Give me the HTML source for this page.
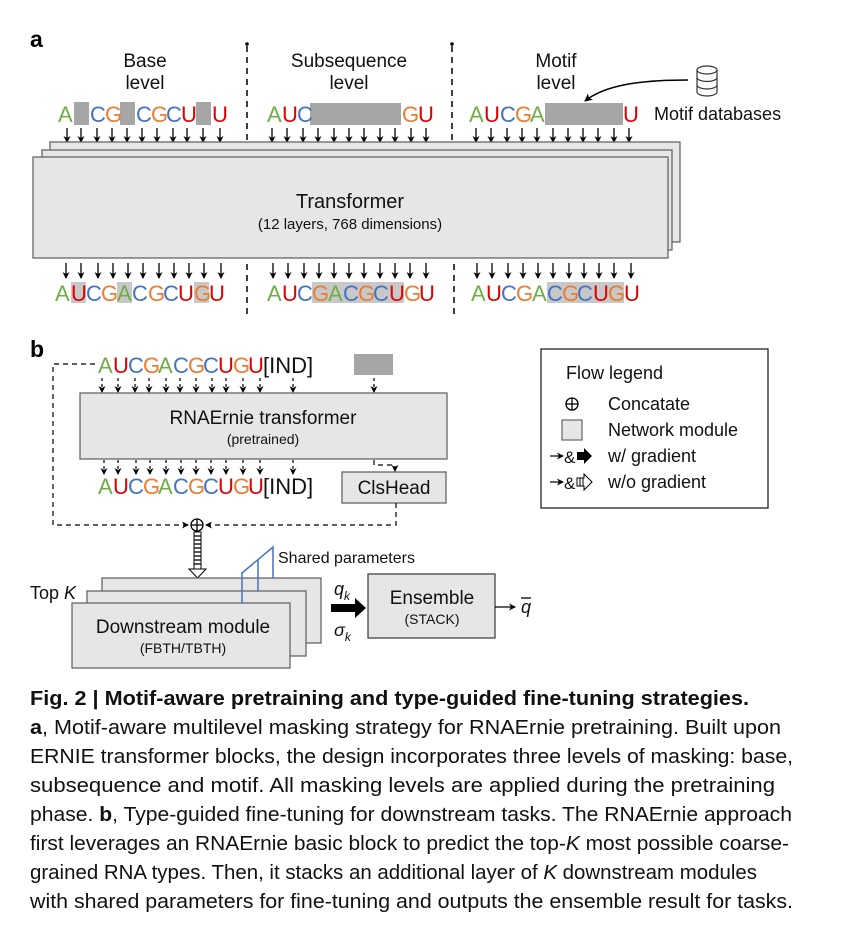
<!DOCTYPE html>
<html><head><meta charset="utf-8"><style>
html,body{margin:0;padding:0;background:#fff;}
svg{display:block;font-family:"Liberation Sans",sans-serif;}
</style></head><body>
<svg width="868" height="934" viewBox="0 0 868 934" xmlns="http://www.w3.org/2000/svg">
<defs>
<marker id="ah" markerWidth="8" markerHeight="8" refX="7" refY="4" orient="auto" markerUnits="userSpaceOnUse"><path d="M0,0 L8,4 L0,8 L2,4 z" fill="#000"/></marker>
<marker id="ahs" markerWidth="7" markerHeight="7" refX="6" refY="3.5" orient="auto" markerUnits="userSpaceOnUse"><path d="M0,0 L7,3.5 L0,7 L2,3.5 z" fill="#000"/></marker>
</defs>

<!-- Panel a -->
<text x="30" y="47" font-size="23" font-weight="bold">a</text>
<g stroke="#000" stroke-width="1.5" stroke-dasharray="6,5">
<line x1="247" y1="46" x2="247" y2="140"/><line x1="452" y1="46" x2="452" y2="140"/>
<line x1="247" y1="264" x2="247" y2="318"/><line x1="454" y1="264" x2="454" y2="318"/>
</g>
<circle cx="247" cy="44" r="1.8"/><circle cx="452" cy="44" r="1.8"/>

<g font-size="19" text-anchor="middle" fill="#111">
<text x="145" y="67">Base</text><text x="145" y="89">level</text>
<text x="349" y="67">Subsequence</text><text x="349" y="89">level</text>
<text x="556" y="67">Motif</text><text x="556" y="89">level</text>
</g>

<!-- top seqs -->
<g fill="#a6a6a6">
<rect x="74" y="102" width="15" height="23"/><rect x="120" y="102" width="15" height="23"/><rect x="196" y="102" width="15" height="23"/>
<rect x="310" y="103" width="91" height="22"/>
<rect x="545" y="103" width="78" height="22"/>
</g>
<g font-size="22">
<text y="122"><tspan x="58" fill="#70AD47">A</tspan><tspan x="90" fill="#4472C4">C</tspan><tspan x="105" fill="#ED7D31">G</tspan><tspan x="136" fill="#4472C4">C</tspan><tspan x="151" fill="#ED7D31">G</tspan><tspan x="166" fill="#4472C4">C</tspan><tspan x="181" fill="#E00000">U</tspan><tspan x="212" fill="#E00000">U</tspan></text>
<text y="122"><tspan x="267" fill="#70AD47">A</tspan><tspan x="282" fill="#E00000">U</tspan><tspan x="297" fill="#4472C4">C</tspan><tspan x="402" fill="#ED7D31">G</tspan><tspan x="418" fill="#E00000">U</tspan></text>
<text y="122"><tspan x="469" fill="#70AD47">A</tspan><tspan x="484" fill="#E00000">U</tspan><tspan x="500" fill="#4472C4">C</tspan><tspan x="515" fill="#ED7D31">G</tspan><tspan x="530" fill="#70AD47">A</tspan><tspan x="623" fill="#E00000">U</tspan></text>
</g>

<!-- DB icon + curved arrow -->
<g fill="none" stroke="#333" stroke-width="1.2">
<ellipse cx="707" cy="70" rx="10" ry="4"/>
<path d="M697,70 V92 A10,4 0 0 0 717,92 V70"/>
<path d="M697,77.5 A10,4 0 0 0 717,77.5"/><path d="M697,85 A10,4 0 0 0 717,85"/>
</g>
<path d="M688,80 C640,80 605,85 585,101" fill="none" stroke="#000" stroke-width="1.5" marker-end="url(#ah)"/>
<text x="654" y="120" font-size="18" fill="#111">Motif databases</text>

<!-- top arrows -->
<g stroke="#000" stroke-width="1.3" marker-end="url(#ahs)">
<line x1="67" y1="128" x2="67" y2="142"/><line x1="81" y1="128" x2="81" y2="142"/><line x1="97" y1="128" x2="97" y2="142"/><line x1="112" y1="128" x2="112" y2="142"/><line x1="127" y1="128" x2="127" y2="142"/><line x1="142" y1="128" x2="142" y2="142"/><line x1="157" y1="128" x2="157" y2="142"/><line x1="173" y1="128" x2="173" y2="142"/><line x1="187" y1="128" x2="187" y2="142"/><line x1="203" y1="128" x2="203" y2="142"/><line x1="220" y1="128" x2="220" y2="142"/>
<line x1="272" y1="128" x2="272" y2="142"/><line x1="287" y1="128" x2="287" y2="142"/><line x1="303" y1="128" x2="303" y2="142"/><line x1="318" y1="128" x2="318" y2="142"/><line x1="334" y1="128" x2="334" y2="142"/><line x1="349" y1="128" x2="349" y2="142"/><line x1="364" y1="128" x2="364" y2="142"/><line x1="380" y1="128" x2="380" y2="142"/><line x1="395" y1="128" x2="395" y2="142"/><line x1="411" y1="128" x2="411" y2="142"/><line x1="426" y1="128" x2="426" y2="142"/>
<line x1="476" y1="128" x2="476" y2="142"/><line x1="491" y1="128" x2="491" y2="142"/><line x1="507" y1="128" x2="507" y2="142"/><line x1="522" y1="128" x2="522" y2="142"/><line x1="537" y1="128" x2="537" y2="142"/><line x1="553" y1="128" x2="553" y2="142"/><line x1="568" y1="128" x2="568" y2="142"/><line x1="583" y1="128" x2="583" y2="142"/><line x1="598" y1="128" x2="598" y2="142"/><line x1="614" y1="128" x2="614" y2="142"/><line x1="629" y1="128" x2="629" y2="142"/>
</g>

<!-- transformer stack -->
<g fill="#e6e6e6" stroke="#666" stroke-width="1.3">
<rect x="50" y="142" width="630" height="100"/>
<rect x="42" y="150" width="630" height="100"/>
<rect x="33" y="157" width="635" height="101"/>
</g>
<text x="350" y="208" font-size="20" text-anchor="middle" fill="#111">Transformer</text>
<text x="350" y="229" font-size="15" text-anchor="middle" fill="#111">(12 layers, 768 dimensions)</text>

<!-- bottom arrows -->
<g stroke="#000" stroke-width="1.3" marker-end="url(#ahs)">
<line x1="66" y1="263" x2="66" y2="278"/><line x1="81" y1="263" x2="81" y2="278"/><line x1="98" y1="263" x2="98" y2="278"/><line x1="113" y1="263" x2="113" y2="278"/><line x1="128" y1="263" x2="128" y2="278"/><line x1="143" y1="263" x2="143" y2="278"/><line x1="159" y1="263" x2="159" y2="278"/><line x1="174" y1="263" x2="174" y2="278"/><line x1="189" y1="263" x2="189" y2="278"/><line x1="204" y1="263" x2="204" y2="278"/><line x1="221" y1="263" x2="221" y2="278"/>
<line x1="273" y1="263" x2="273" y2="278"/><line x1="288" y1="263" x2="288" y2="278"/><line x1="304" y1="263" x2="304" y2="278"/><line x1="319" y1="263" x2="319" y2="278"/><line x1="334" y1="263" x2="334" y2="278"/><line x1="349" y1="263" x2="349" y2="278"/><line x1="364" y1="263" x2="364" y2="278"/><line x1="380" y1="263" x2="380" y2="278"/><line x1="395" y1="263" x2="395" y2="278"/><line x1="410" y1="263" x2="410" y2="278"/><line x1="426" y1="263" x2="426" y2="278"/>
<line x1="477" y1="263" x2="477" y2="278"/><line x1="492" y1="263" x2="492" y2="278"/><line x1="508" y1="263" x2="508" y2="278"/><line x1="523" y1="263" x2="523" y2="278"/><line x1="538" y1="263" x2="538" y2="278"/><line x1="553" y1="263" x2="553" y2="278"/><line x1="569" y1="263" x2="569" y2="278"/><line x1="584" y1="263" x2="584" y2="278"/><line x1="599" y1="263" x2="599" y2="278"/><line x1="614" y1="263" x2="614" y2="278"/><line x1="631" y1="263" x2="631" y2="278"/>
</g>
<g fill="#c8c8c8">
<rect x="71" y="282" width="15" height="21"/><rect x="117" y="282" width="15" height="21"/><rect x="194" y="282" width="15" height="21"/>
<rect x="312" y="282" width="92" height="21"/>
<rect x="547" y="282" width="77" height="21"/>
</g>
<g font-size="22">
<text y="301"><tspan x="55" fill="#70AD47">A</tspan><tspan x="71" fill="#E00000">U</tspan><tspan x="86" fill="#4472C4">C</tspan><tspan x="101" fill="#ED7D31">G</tspan><tspan x="117" fill="#70AD47">A</tspan><tspan x="132" fill="#4472C4">C</tspan><tspan x="148" fill="#ED7D31">G</tspan><tspan x="163" fill="#4472C4">C</tspan><tspan x="178" fill="#E00000">U</tspan><tspan x="194" fill="#ED7D31">G</tspan><tspan x="209" fill="#E00000">U</tspan></text>
<text y="301"><tspan x="267" fill="#70AD47">A</tspan><tspan x="282" fill="#E00000">U</tspan><tspan x="297" fill="#4472C4">C</tspan><tspan x="312" fill="#ED7D31">G</tspan><tspan x="328" fill="#70AD47">A</tspan><tspan x="343" fill="#4472C4">C</tspan><tspan x="358" fill="#ED7D31">G</tspan><tspan x="373" fill="#4472C4">C</tspan><tspan x="389" fill="#E00000">U</tspan><tspan x="404" fill="#ED7D31">G</tspan><tspan x="419" fill="#E00000">U</tspan></text>
<text y="301"><tspan x="471" fill="#70AD47">A</tspan><tspan x="486" fill="#E00000">U</tspan><tspan x="501" fill="#4472C4">C</tspan><tspan x="516" fill="#ED7D31">G</tspan><tspan x="532" fill="#70AD47">A</tspan><tspan x="547" fill="#4472C4">C</tspan><tspan x="562" fill="#ED7D31">G</tspan><tspan x="577" fill="#4472C4">C</tspan><tspan x="593" fill="#E00000">U</tspan><tspan x="608" fill="#ED7D31">G</tspan><tspan x="624" fill="#E00000">U</tspan></text>
</g>

<!-- Panel b -->
<text x="30" y="357" font-size="23" font-weight="bold">b</text>
<rect x="354" y="354" width="39" height="21" fill="#a6a6a6"/>
<g font-size="22">
<text y="373"><tspan x="98" fill="#70AD47">A</tspan><tspan x="113" fill="#E00000">U</tspan><tspan x="128" fill="#4472C4">C</tspan><tspan x="143" fill="#ED7D31">G</tspan><tspan x="158" fill="#70AD47">A</tspan><tspan x="173" fill="#4472C4">C</tspan><tspan x="188" fill="#ED7D31">G</tspan><tspan x="203" fill="#4472C4">C</tspan><tspan x="218" fill="#E00000">U</tspan><tspan x="233" fill="#ED7D31">G</tspan><tspan x="248" fill="#E00000">U</tspan><tspan x="263" fill="#111">[IND]</tspan></text>
<text y="494"><tspan x="98" fill="#70AD47">A</tspan><tspan x="113" fill="#E00000">U</tspan><tspan x="128" fill="#4472C4">C</tspan><tspan x="143" fill="#ED7D31">G</tspan><tspan x="158" fill="#70AD47">A</tspan><tspan x="173" fill="#4472C4">C</tspan><tspan x="188" fill="#ED7D31">G</tspan><tspan x="203" fill="#4472C4">C</tspan><tspan x="218" fill="#E00000">U</tspan><tspan x="233" fill="#ED7D31">G</tspan><tspan x="248" fill="#E00000">U</tspan><tspan x="263" fill="#111">[IND]</tspan></text>
</g>
<g stroke="#000" stroke-width="1.2" stroke-dasharray="3,3" marker-end="url(#ahs)">
<line x1="102" y1="378" x2="102" y2="392"/><line x1="118" y1="378" x2="118" y2="392"/><line x1="135" y1="378" x2="135" y2="392"/><line x1="149" y1="378" x2="149" y2="392"/><line x1="166" y1="378" x2="166" y2="392"/><line x1="180" y1="378" x2="180" y2="392"/><line x1="196" y1="378" x2="196" y2="392"/><line x1="212" y1="378" x2="212" y2="392"/><line x1="226" y1="378" x2="226" y2="392"/><line x1="243" y1="378" x2="243" y2="392"/><line x1="260" y1="378" x2="260" y2="392"/><line x1="293" y1="378" x2="293" y2="392"/><line x1="374" y1="378" x2="374" y2="392"/>
<line x1="104" y1="460" x2="104" y2="474"/><line x1="118" y1="460" x2="118" y2="474"/><line x1="136" y1="460" x2="136" y2="474"/><line x1="150" y1="460" x2="150" y2="474"/><line x1="166" y1="460" x2="166" y2="474"/><line x1="181" y1="460" x2="181" y2="474"/><line x1="196" y1="460" x2="196" y2="474"/><line x1="211" y1="460" x2="211" y2="474"/><line x1="226" y1="460" x2="226" y2="474"/><line x1="243" y1="460" x2="243" y2="474"/><line x1="260" y1="460" x2="260" y2="474"/><line x1="293" y1="460" x2="293" y2="474"/>
</g>
<rect x="80" y="393" width="367" height="66" fill="#e6e6e6" stroke="#666" stroke-width="1.3"/>
<text x="263" y="424" font-size="19" text-anchor="middle" fill="#111">RNAErnie transformer</text>
<text x="263" y="444" font-size="14" text-anchor="middle" fill="#111">(pretrained)</text>
<rect x="342" y="472" width="104" height="31" fill="#e6e6e6" stroke="#666" stroke-width="1.3"/>
<text x="394" y="494" font-size="19" text-anchor="middle" fill="#111">ClsHead</text>

<g fill="none" stroke="#000" stroke-width="1.2" stroke-dasharray="5,4">
<path d="M95,364 H53 V525 H188" marker-end="url(#ahs)"/>
<path d="M396,503 V525 H206" marker-end="url(#ahs)"/>
<path d="M374,460 V465 H395 V471" marker-end="url(#ahs)"/>
</g>
<circle cx="197" cy="525" r="6" fill="#fff" stroke="#000" stroke-width="1.3"/>
<line x1="191" y1="525" x2="203" y2="525" stroke="#000" stroke-width="1.3"/>
<line x1="197" y1="519" x2="197" y2="531" stroke="#000" stroke-width="1.3"/>

<!-- hatched arrow -->
<g stroke="#000" stroke-width="1" fill="#fff">
<rect x="194" y="532" width="7" height="37"/>
<path d="M189,569 H206 L197.5,578 Z"/>
</g>
<g stroke="#000" stroke-width="1.3">
<line x1="194" y1="536" x2="201" y2="536"/><line x1="194" y1="540" x2="201" y2="540"/><line x1="194" y1="544" x2="201" y2="544"/><line x1="194" y1="548" x2="201" y2="548"/><line x1="194" y1="552" x2="201" y2="552"/><line x1="194" y1="556" x2="201" y2="556"/><line x1="194" y1="560" x2="201" y2="560"/><line x1="194" y1="564" x2="201" y2="564"/>
</g>

<!-- downstream stack -->
<g fill="#e6e6e6" stroke="#666" stroke-width="1.3">
<rect x="102" y="578" width="219" height="65"/>
<rect x="87" y="591" width="219" height="65"/>
<rect x="72" y="603" width="218" height="65"/>
</g>
<text x="30" y="599" font-size="18" fill="#111">Top <tspan font-style="italic">K</tspan></text>
<text x="183" y="633" font-size="19" text-anchor="middle" fill="#111">Downstream module</text>
<text x="183" y="653" font-size="14" text-anchor="middle" fill="#111">(FBTH/TBTH)</text>
<g fill="none" stroke="#4472C4" stroke-width="1.5">
<path d="M242,603 V573 L273,547 V578"/>
<line x1="258" y1="560" x2="258" y2="591"/>
</g>
<text x="278" y="563" font-size="16" fill="#111">Shared parameters</text>

<path d="M331,604 H355 V598 L366,608 L355,618 V612 H331 Z" fill="#000"/>
<text x="334" y="595" font-size="18" font-style="italic" fill="#111">q<tspan font-size="12" dy="5">k</tspan></text>
<text x="334" y="636" font-size="18" font-style="italic" fill="#111">σ<tspan font-size="12" dy="5">k</tspan></text>
<rect x="368" y="574" width="127" height="64" fill="#e6e6e6" stroke="#444" stroke-width="1.3"/>
<text x="432" y="604" font-size="19" text-anchor="middle" fill="#111">Ensemble</text>
<text x="432" y="624" font-size="14" text-anchor="middle" fill="#111">(STACK)</text>
<line x1="495" y1="607" x2="515" y2="607" stroke="#000" stroke-width="1.3" marker-end="url(#ahs)"/>
<text x="521" y="613" font-size="18" font-style="italic" fill="#111">q</text>
<line x1="521" y1="598" x2="531" y2="598" stroke="#000" stroke-width="1.3"/>

<!-- legend -->
<rect x="541" y="349" width="227" height="159" fill="#fff" stroke="#222" stroke-width="1.3"/>
<g font-size="18" fill="#111">
<text x="566" y="379">Flow legend</text>
<text x="608" y="410">Concatate</text>
<text x="608" y="436">Network module</text>
<text x="608" y="462">w/ gradient</text>
<text x="608" y="488">w/o gradient</text>
</g>
<circle cx="572" cy="404" r="6" fill="none" stroke="#000" stroke-width="1.3"/>
<line x1="566" y1="404" x2="578" y2="404" stroke="#000" stroke-width="1.3"/>
<line x1="572" y1="398" x2="572" y2="410" stroke="#000" stroke-width="1.3"/>
<rect x="562" y="420" width="20" height="20" fill="#e6e6e6" stroke="#666" stroke-width="1.2"/>
<line x1="550" y1="456" x2="563" y2="456" stroke="#000" stroke-width="1.2" marker-end="url(#ahs)"/>
<text x="564" y="463" font-size="17" fill="#111">&amp;</text>
<path d="M577,452 H584 V448 L592,456 L584,464 V460 H577 Z" fill="#000"/>
<line x1="550" y1="482" x2="563" y2="482" stroke="#000" stroke-width="1.2" marker-end="url(#ahs)"/>
<text x="564" y="489" font-size="17" fill="#111">&amp;</text>
<path d="M577,478 H584 V474 L592,482 L584,490 V486 H577 Z" fill="#fff" stroke="#000" stroke-width="1"/>
<line x1="580" y1="478" x2="580" y2="486" stroke="#000" stroke-width="1"/>
<line x1="583" y1="478" x2="583" y2="486" stroke="#000" stroke-width="1"/>

<!-- caption -->
<g font-size="20" fill="#111">
<text x="30" y="705" font-weight="bold" textLength="719" lengthAdjust="spacingAndGlyphs">Fig. 2 | Motif-aware pretraining and type-guided fine-tuning strategies.</text>
<text x="30" y="734" textLength="751" lengthAdjust="spacingAndGlyphs"><tspan font-weight="bold">a</tspan>, Motif-aware multilevel masking strategy for RNAErnie pretraining. Built upon</text>
<text x="30" y="763" textLength="763" lengthAdjust="spacingAndGlyphs">ERNIE transformer blocks, the design incorporates three levels of masking: base,</text>
<text x="30" y="792" textLength="745" lengthAdjust="spacingAndGlyphs">subsequence and motif. All masking levels are applied during the pretraining</text>
<text x="30" y="821" textLength="762" lengthAdjust="spacingAndGlyphs">phase. <tspan font-weight="bold">b</tspan>, Type-guided fine-tuning for downstream tasks. The RNAErnie approach</text>
<text x="30" y="850" textLength="759" lengthAdjust="spacingAndGlyphs">first leverages an RNAErnie basic block to predict the top-<tspan font-style="italic">K</tspan> most possible coarse-</text>
<text x="30" y="879" textLength="727" lengthAdjust="spacingAndGlyphs">grained RNA types. Then, it stacks an additional layer of <tspan font-style="italic">K</tspan> downstream modules</text>
<text x="30" y="908" textLength="763" lengthAdjust="spacingAndGlyphs">with shared parameters for fine-tuning and outputs the ensemble result for tasks.</text>
</g>
</svg>
</body></html>
